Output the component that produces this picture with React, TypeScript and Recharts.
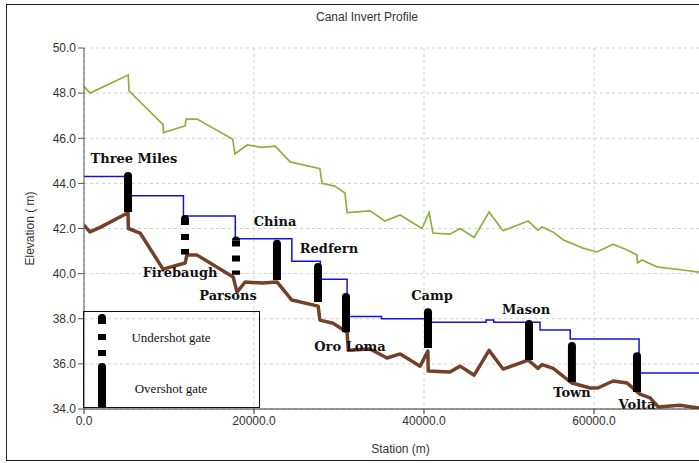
import React from "react";
import {
  ComposedChart,
  Line,
  Scatter,
  XAxis,
  YAxis,
  CartesianGrid,
  ReferenceLine,
} from "recharts";

// ground surface (green)
const groundStation = [0, 700, 5200, 5300, 9300, 9350, 11900, 12000, 13300, 17500, 17750, 19200, 20900, 22500, 24250, 27750, 28000, 29500, 30700, 30950, 33650, 35400, 37200, 39750, 40600, 41050, 43050, 44250, 45900, 47650, 49300, 52250, 53400, 53900, 55200, 56350, 58700, 60350, 62250, 63900, 65050, 65100, 65650, 67400, 70450, 72350];
const groundElev = [48.3, 48.0, 48.8, 48.1, 46.6, 46.25, 46.55, 46.85, 46.85, 45.95, 45.3, 45.7, 45.6, 45.65, 44.95, 44.65, 44.0, 43.88, 43.57, 42.7, 42.78, 42.33, 42.6, 42.0, 42.7, 41.8, 41.75, 42.0, 41.6, 42.73, 41.9, 42.33, 41.93, 42.07, 41.84, 41.5, 41.13, 40.96, 41.3, 41.05, 40.82, 40.47, 40.6, 40.3, 40.16, 40.07];

// water surface (blue, stepped)
const waterStation = [0, 5200, 11700, 17800, 24450, 27800, 30950, 35000, 40700, 47300, 48200, 53650, 57200, 65300, 72350];
const waterElev = [44.3, 43.45, 42.55, 41.55, 40.55, 39.75, 38.1, 38.0, 37.85, 37.95, 37.85, 37.5, 37.1, 35.6, 35.6];

// canal invert (brown)
const invertStation = [0, 700, 1900, 5180, 5220, 6600, 9300, 11900, 12100, 13300, 17550, 18000, 18950, 21050, 22700, 24450, 27550, 27750, 29300, 30950, 31100, 33650, 35650, 37200, 39550, 40450, 40500, 43050, 44250, 45900, 47650, 49300, 52250, 53400, 53900, 55200, 57400, 59550, 60450, 62250, 63900, 65400, 66600, 67550, 70100, 72350];
const invertElev = [42.15, 41.85, 42.05, 42.7, 42.0, 41.8, 40.2, 40.47, 40.82, 40.82, 39.85, 39.18, 39.63, 39.58, 39.63, 38.83, 38.56, 37.94, 37.8, 37.4, 36.6, 36.66, 36.26, 36.44, 35.9, 36.57, 35.68, 35.64, 35.9, 35.5, 36.6, 35.77, 36.17, 35.8, 35.97, 35.8, 35.15, 34.93, 34.93, 35.24, 35.15, 34.66, 34.49, 34.09, 34.17, 34.04];

// gates
const gateNames = ["Three Miles", "Firebaugh", "Parsons", "China", "Redfern", "Oro Loma", "Camp", "Mason", "Town", "Volta"];
const gateKinds = ["over", "under", "under", "over", "over", "over", "over", "over", "over", "over"];
const gateStation = [5180, 11880, 17880, 22700, 27530, 30820, 40470, 52350, 57400, 65060];
const gateTop = [44.5, 42.6, 41.65, 41.5, 40.47, 39.14, 38.47, 37.94, 36.97, 36.52];
const gateBottom = [42.73, 40.85, 39.95, 39.72, 38.74, 37.4, 36.7, 36.17, 35.2, 34.75];
const labelStation = [5880, 11300, 16940, 22470, 28820, 31290, 40940, 52000, 57410, 65060];
const labelElev = [45.12, 40.03, 39.05, 42.29, 41.13, 36.75, 39.05, 38.43, 34.71, 34.22];

const yTicks = [34, 36, 38, 40, 42, 44, 46, 48, 50];
const xTicks = [0, 20000, 40000, 60000];

const zip = (xs: number[], ys: number[]) => xs.map((x, i) => ({ x, y: ys[i] }));
const groundData = zip(groundStation, groundElev);
const waterData = zip(waterStation, waterElev);
const invertData = zip(invertStation, invertElev);
const labelData = gateNames.map((name, i) => ({ x: labelStation[i], y: labelElev[i], name }));

const serif = "'DejaVu Serif', 'Liberation Serif', serif";
const legendSerif = "'Liberation Serif', 'DejaVu Serif', serif";
const sans = "'Liberation Sans', Arial, sans-serif";

function overshotShape(p: any) {
  const x = p.x1;
  const top = Math.min(p.y1, p.y2);
  const bottom = Math.max(p.y1, p.y2);
  const r = 4;
  return (
    <path
      d={`M${x - r},${bottom} L${x - r},${top + r} A${r},${r} 0 0 1 ${x + r},${top + r} L${x + r},${bottom} Z`}
      fill="#000"
    />
  );
}

function undershotShape(p: any) {
  const x = p.x1;
  const top = Math.min(p.y1, p.y2);
  const bottom = Math.max(p.y1, p.y2);
  const r = 4;
  return (
    <g>
      <path d={`M${x - r},${top + r} A${r},${r} 0 0 1 ${x + r},${top + r} Z`} fill="#000" />
      <line x1={x} y1={top + r} x2={x} y2={bottom} stroke="#000" strokeWidth={8} strokeDasharray="6 9" />
    </g>
  );
}

// legend box drawn over the plot, lower left
function LegendBox() {
  return (
    <div
      style={{
        position: "absolute",
        left: 83,
        top: 311,
        width: 177,
        height: 97,
        border: "1px solid #111",
        boxSizing: "border-box",
      }}
    >
      <svg width={177} height={97} style={{ position: "absolute", left: -1, top: -1 }}>
        <path d="M15,9 L15,7 A4,4 0 0 1 23,7 L23,9 Z" fill="#000" />
        <line x1={19} y1={7} x2={19} y2={46} stroke="#000" strokeWidth={8} strokeDasharray="6 10" />
        <path d="M15,96 L15,56 A4,4 0 0 1 23,56 L23,96 Z" fill="#000" />
        <text x={88} y={26} textAnchor="middle" dominantBaseline="central" fontFamily={legendSerif} fontSize={13} fill="#111">
          Undershot gate
        </text>
        <text x={88} y={77} textAnchor="middle" dominantBaseline="central" fontFamily={legendSerif} fontSize={13} fill="#111">
          Overshot gate
        </text>
      </svg>
    </div>
  );
}

export default function App() {
  return (
    <div style={{ position: "absolute", left: 0, top: 0, width: 699, height: 463, background: "#fff" }}>
      <div
        style={{
          position: "absolute",
          left: 6,
          top: 4,
          width: 693,
          height: 457,
          borderTop: "1px solid #222",
          borderLeft: "1px solid #222",
          borderBottom: "1px solid #222",
          boxSizing: "border-box",
        }}
      />
      <div
        style={{
          position: "absolute",
          left: 367,
          top: 10,
          transform: "translateX(-50%)",
          fontFamily: sans,
          fontSize: 12,
          color: "#333",
          whiteSpace: "nowrap",
        }}
      >
        Canal Invert Profile
      </div>
      <div style={{ position: "absolute", left: 0, top: 0 }}>
        <ComposedChart width={699} height={463} margin={{ top: 48, right: 0, bottom: 0, left: 0 }}>
          <CartesianGrid stroke="#cfcfcf" strokeDasharray="3 3" horizontalValues={yTicks} verticalValues={xTicks} />
          <XAxis
            type="number"
            dataKey="x"
            domain={[0, 72350]}
            ticks={xTicks}
            allowDataOverflow
            tickFormatter={(v: number) => v.toFixed(1)}
            height={54}
            tickSize={5}
            stroke="#333"
            tick={{ fontSize: 12, fontFamily: sans, fill: "#333" }}
            label={{ value: "Station (m)", position: "insideBottom", offset: 10, dx: 9, style: { fontSize: 12, fontFamily: sans, fill: "#333" } }}
          />
          <YAxis
            type="number"
            dataKey="y"
            domain={[34, 50]}
            ticks={yTicks}
            allowDataOverflow
            tickFormatter={(v: number) => v.toFixed(1)}
            width={84}
            tickSize={6}
            stroke="#555"
            tick={{ fontSize: 12, fontFamily: sans, fill: "#333" }}
            label={{
              value: "Elevation ( m)",
              angle: -90,
              position: "insideLeft",
              offset: 30,
              style: { textAnchor: "middle", fontSize: 12, fontFamily: sans, fill: "#333" },
            }}
          />
          <Line data={groundData} dataKey="y" type="linear" stroke="#8fb040" strokeWidth={1.7} dot={false} isAnimationActive={false} />
          <Line data={waterData} dataKey="y" type="stepAfter" stroke="#1414d6" strokeWidth={1.5} dot={false} isAnimationActive={false} />
          <Line data={invertData} dataKey="y" type="linear" stroke="#74402a" strokeWidth={3.5} strokeLinejoin="round" dot={false} isAnimationActive={false} />
          {gateNames.map((name, i) => (
            <ReferenceLine
              key={name}
              segment={[
                { x: gateStation[i], y: gateTop[i] },
                { x: gateStation[i], y: gateBottom[i] },
              ]}
              stroke="#000"
              shape={gateKinds[i] === "over" ? overshotShape : undershotShape}
            />
          ))}
          <Scatter
            data={labelData}
            dataKey="y"
            isAnimationActive={false}
            shape={(p: any) => (
              <text
                x={p.cx}
                y={p.cy}
                textAnchor="middle"
                dominantBaseline="central"
                fontFamily={serif}
                fontWeight="bold"
                fontSize={13}
                fill="#111"
              >
                {p.payload.name}
              </text>
            )}
          />
        </ComposedChart>
      </div>
      <LegendBox />
    </div>
  );
}
